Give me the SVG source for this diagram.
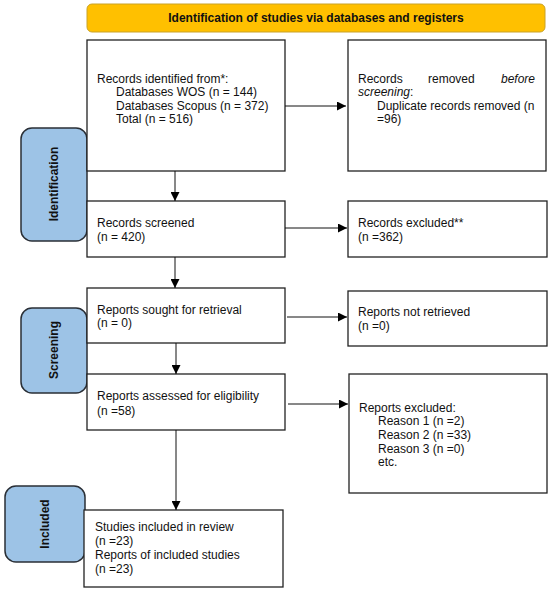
<svg xmlns="http://www.w3.org/2000/svg" width="550" height="590" viewBox="0 0 550 590">
<defs>
<marker id="ah" viewBox="0 0 10 10" refX="10" refY="5" markerWidth="9" markerHeight="9" markerUnits="userSpaceOnUse" orient="auto"><path d="M0,0 L10,5 L0,10 z" fill="#000"/></marker>
<style>
.box{fill:#fff;stroke:#222;stroke-width:1.3}
.lab{fill:#9DC3E6;stroke:#2a2f36;stroke-width:1.5}
.t{font-family:"Liberation Sans",Arial,sans-serif;font-size:12px;fill:#111}
.b{font-family:"Liberation Sans",Arial,sans-serif;font-size:12px;font-weight:bold;fill:#111}
.c{stroke:#111;stroke-width:1;fill:none;marker-end:url(#ah)}
</style>
</defs>
<rect width="550" height="590" fill="#fff"/>
<g id="banner"><rect x="87" y="4" width="458" height="28" rx="5" fill="#FFC000" stroke="#C9A227" stroke-width="1"/><text class="b" x="316" y="22" text-anchor="middle">Identification of studies via databases and registers</text></g>
<g id="lab-identification"><rect class="lab" x="21" y="128" width="66" height="113" rx="11"/><text class="b" transform="translate(58,184) rotate(-90)" text-anchor="middle">Identification</text></g>
<g id="lab-screening"><rect class="lab" x="21" y="308" width="66" height="85" rx="11"/><text class="b" transform="translate(58,350) rotate(-90)" text-anchor="middle">Screening</text></g>
<g id="lab-included"><rect class="lab" x="5" y="486" width="80" height="76" rx="11"/><text class="b" transform="translate(49,524) rotate(-90)" text-anchor="middle">Included</text></g>
<g id="n-identified"><rect class="box" x="87" y="40" width="198" height="131"/>
<text class="t" x="97" y="83">Records identified from*:</text>
<text class="t" x="116" y="96">Databases WOS (n = 144)</text>
<text class="t" x="116" y="110">Databases Scopus (n = 372)</text>
<text class="t" x="116" y="123">Total (n = 516)</text></g>
<g id="n-removed"><rect class="box" x="348" y="40" width="198" height="131"/>
<text class="t" x="358" y="83">Records</text><text class="t" x="428" y="83">removed</text><text class="t" x="535" y="83" text-anchor="end" font-style="italic">before</text>
<text class="t" x="358" y="96"><tspan font-style="italic">screening</tspan>:</text>
<text class="t" x="377" y="110">Duplicate records removed (n</text>
<text class="t" x="377" y="123">=96)</text></g>
<g id="n-screened"><rect class="box" x="87" y="201" width="198" height="56"/>
<text class="t" x="97" y="227">Records screened</text><text class="t" x="97" y="241">(n = 420)</text></g>
<g id="n-excluded"><rect class="box" x="348" y="201" width="199" height="56"/>
<text class="t" x="358" y="227">Records excluded**</text><text class="t" x="358" y="241">(n =362)</text></g>
<g id="n-sought"><rect class="box" x="87" y="288" width="198" height="55"/>
<text class="t" x="97" y="314">Reports sought for retrieval</text><text class="t" x="97" y="327">(n = 0)</text></g>
<g id="n-notretrieved"><rect class="box" x="348" y="291" width="199" height="55"/>
<text class="t" x="358" y="316">Reports not retrieved</text><text class="t" x="358" y="330">(n =0)</text></g>
<g id="n-assessed"><rect class="box" x="87" y="374" width="198" height="56"/>
<text class="t" x="97" y="400">Reports assessed for eligibility</text><text class="t" x="97" y="415">(n =58)</text></g>
<g id="n-reportsexcluded"><rect class="box" x="349" y="374" width="198" height="119"/>
<text class="t" x="359" y="412">Reports excluded:</text>
<text class="t" x="378" y="425">Reason 1 (n =2)</text>
<text class="t" x="378" y="439">Reason 2 (n =33)</text>
<text class="t" x="378" y="453">Reason 3 (n =0)</text>
<text class="t" x="378" y="466">etc.</text></g>
<g id="n-included"><rect class="box" x="84" y="510" width="199" height="77"/>
<text class="t" x="95" y="531">Studies included in review</text>
<text class="t" x="95" y="545">(n =23)</text>
<text class="t" x="95" y="559">Reports of included studies</text>
<text class="t" x="95" y="573">(n =23)</text></g>
<g id="connectors">
<path class="c" d="M285,106 H346"/>
<path class="c" d="M175,171 V201"/>
<path class="c" d="M285,228 H347"/>
<path class="c" d="M175,257 V288"/>
<path class="c" d="M287,317 H347"/>
<path class="c" d="M176,343 V374"/>
<path class="c" d="M288,404 H348"/>
<path class="c" d="M176,430 V510"/>
</g>
</svg>
